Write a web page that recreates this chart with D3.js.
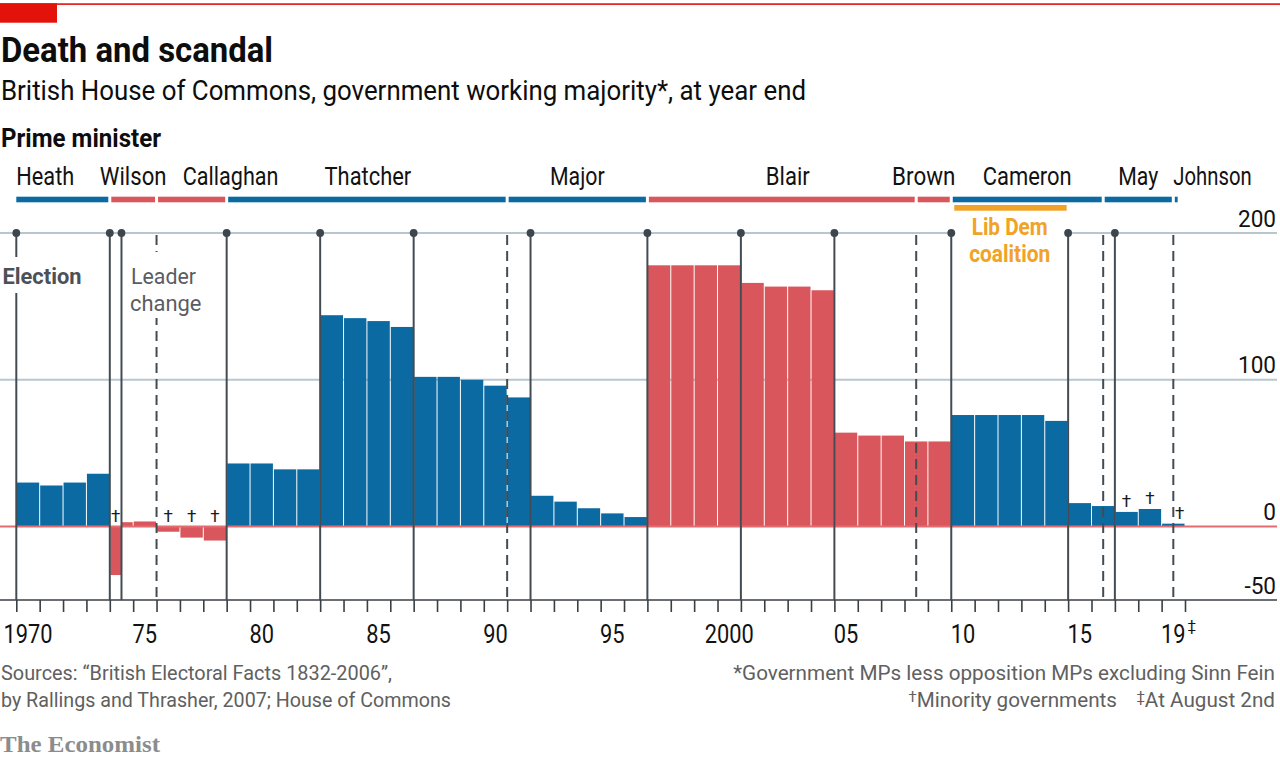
<!DOCTYPE html>
<html><head><meta charset="utf-8">
<script src="https://cdn.jsdelivr.net/npm/d3@7/dist/d3.min.js"></script>
<style>html,body{margin:0;padding:0;background:#fff}svg{display:block}</style>
</head><body>
<svg id="chart" width="1280" height="759"></svg>
<script>
// ---------------- DATA ----------------
// Bars: start year of each segment (1974 split at October election), working majority at year end
const barStart = [1970,1971,1972,1973,1974,1974.5,1975,1976,1977,1978,
  1979,1980,1981,1982,1983,1984,1985,1986,1987,1988,1989,1990,1991,1992,1993,1994,1995,1996,
  1997,1998,1999,2000,2001,2002,2003,2004,2005,2006,2007,2008,2009,
  2010,2011,2012,2013,2014,2015,2016,2017,2018,2019];
const majority = [30,28,30,36,-33,3,3.5,-3.5,-7.5,-9.5,
  43,43,39,39,144,142,140,136,102,102,100,96,88,21,17,12.5,9,6.5,
  178,178,178,178,166,163.5,163.5,161,64,62,62,58,58,
  76,76,76,76,72,16,14,10,12,2];
const minorityBars = [1974,1976,1977,1978,2017,2018,2019];
const barEndYear = 2020;

const elections = [1970,1974,1974.5,1979,1983,1987,1992,1997,2001,2005,2010,2015,2017];
const leaderChanges = [1976,1991,2008.5,2016.5,2019.5];

const pmNames = ["Heath","Wilson","Callaghan","Thatcher","Major","Blair","Brown","Cameron","May","Johnson"];
const pmStart = [1970,1974,1976,1979,1991,1997,2008.5,2010,2016.5,2019.5];
const pmEnd   = [1974,1976,1979,1991,1997,2008.5,2010,2016.5,2019.5,2019.75];
const pmParty = ["Con","Lab","Lab","Con","Con","Lab","Lab","Con","Con","Con"];
const coalitionPeriod = [2010,2015];

const yTicks = [200,100,0,-50];
const xLabelYears = [1970,1975,1980,1985,1990,1995,2000,2005,2010,2015,2019];
const xLabels = ["1970","75","80","85","90","95","2000","05","10","15","19"];

// ---------------- STYLE / LAYOUT ----------------
const SANS = "Roboto, 'Open Sans', Lato, sans-serif";
const SERIF = "'Liberation Serif', 'DejaVu Serif', serif";
const partyColor = {Con:"#0b6aa2", Lab:"#d9575c"};
const ORANGE = "#f0a326";
const LINE = "#434c53";

const svg = d3.select("#chart");
const x = d3.scaleLinear().domain([1970,2020]).range([16.3,1185]);
const y = d3.scaleLinear().domain([-50,200]).range([600,233]);

function fit(sel, w){ sel.attr("textLength", w).attr("lengthAdjust","spacingAndGlyphs"); return sel; }
function condense(sel, k){ sel.each(function(){ const w=this.getComputedTextLength(); d3.select(this).attr("textLength", w*k).attr("lengthAdjust","spacingAndGlyphs"); }); return sel; }

svg.append("rect").attr("width",1280).attr("height",759).attr("fill","#fff");

// top rule + red tag
svg.append("rect").attr("x",0).attr("y",3.3).attr("width",1280).attr("height",1.6).attr("fill","#e3120b");
svg.append("rect").attr("x",0).attr("y",3.3).attr("width",57).attr("height",19.4).attr("fill","#e3120b");

// titles
fit(svg.append("text").attr("x",1).attr("y",61.7).attr("font-family",SANS).attr("font-weight",700)
  .attr("font-size",35).attr("fill","#0d0d0d").text("Death and scandal"),272);
fit(svg.append("text").attr("x",1).attr("y",100).attr("font-family",SANS)
  .attr("font-size",28).attr("fill","#0d0d0d").text("British House of Commons, government working majority*, at year end"),805);
fit(svg.append("text").attr("x",1).attr("y",146.5).attr("font-family",SANS).attr("font-weight",700)
  .attr("font-size",26).attr("fill","#0d0d0d").text("Prime minister"),160);

// gridlines
svg.append("g").selectAll("line").data(yTicks.filter(d=>d>0)).join("line")
  .attr("x1",0).attr("x2",1277).attr("y1",d=>y(d)).attr("y2",d=>y(d))
  .attr("stroke","#b7c6d0").attr("stroke-width",2);

// coalition label background (hides gridline between elections)
svg.append("rect").attr("x",x(coalitionPeriod[0])+4).attr("width",x(coalitionPeriod[1])-x(coalitionPeriod[0])-8)
  .attr("y",214).attr("height",56).attr("fill","#fff");

// y labels
condense(svg.append("g").selectAll("text").data(yTicks).join("text")
  .attr("x",1276).attr("y",d=>y(d)-6.5).attr("text-anchor","end")
  .attr("font-family",SANS).attr("font-size",24).attr("fill","#121212").text(d=>d),0.94);

// bars
const bars = barStart.map((s,i)=>{
  const e = i<barStart.length-1 ? barStart[i+1] : barEndYear;
  const pi = pmStart.findIndex((ps,j)=> s>=ps && s<pmEnd[j]);
  return {start:s, end:e, v:majority[i], party:pmParty[pi]};
});
svg.append("g").selectAll("rect").data(bars).join("rect")
  .attr("x",d=>x(d.start)+0.5).attr("width",d=>x(d.end)-x(d.start)-1)
  .attr("y",d=>y(Math.max(0,d.v))).attr("height",d=>Math.abs(y(d.v)-y(0)))
  .attr("fill",d=>partyColor[d.party]);

// zero line
svg.append("line").attr("x1",0).attr("x2",1277).attr("y1",y(0)).attr("y2",y(0))
  .attr("stroke","#e26c70").attr("stroke-width",2);

// x axis
svg.append("line").attr("x1",0).attr("x2",1277).attr("y1",y(-50)).attr("y2",y(-50))
  .attr("stroke","#3a3f44").attr("stroke-width",1.6);
const ax = svg.append("g").attr("transform",`translate(0,${y(-50)})`)
  .call(d3.axisBottom(x).tickValues(d3.range(1970,2021)).tickSize(12).tickFormat(""));
ax.select(".domain").remove();
ax.selectAll(".tick line").attr("stroke","#3a3f44").attr("stroke-width",1.6);

// election lines
svg.append("g").selectAll("line").data(elections).join("line")
  .attr("x1",d=>x(d)).attr("x2",d=>x(d)).attr("y1",y(200)).attr("y2",y(-50))
  .attr("stroke",LINE).attr("stroke-width",2);
svg.append("g").selectAll("line").data(leaderChanges).join("line")
  .attr("x1",d=>x(d)).attr("x2",d=>x(d)).attr("y1",y(200)+2).attr("y2",y(-50))
  .attr("stroke",LINE).attr("stroke-width",2).attr("stroke-dasharray","10,6");
svg.append("g").selectAll("circle").data(elections).join("circle")
  .attr("cx",d=>x(d)).attr("cy",y(200)).attr("r",3.9).attr("fill","#3d464d");

// annotation backgrounds
svg.append("rect").attr("x",0).attr("y",257).attr("width",86).attr("height",36).attr("fill","#fff");
svg.append("rect").attr("x",126).attr("y",252).attr("width",80).attr("height",66).attr("fill","#fff");

fit(svg.append("text").attr("x",2.5).attr("y",284.3).attr("font-family",SANS).attr("font-weight",700)
  .attr("font-size",22.5).attr("fill","#4b5157").text("Election"),79);
fit(svg.append("text").attr("x",131).attr("y",284.3).attr("font-family",SANS)
  .attr("font-size",22.5).attr("fill","#595d61").text("Leader"),65);
fit(svg.append("text").attr("x",130).attr("y",310.7).attr("font-family",SANS)
  .attr("font-size",22.5).attr("fill","#595d61").text("change"),71.5);

// daggers (minority governments)
const daggerDx = {2019:6.5};
svg.append("g").selectAll("text").data(bars.filter(b=>minorityBars.includes(b.start))).join("text")
  .attr("x",d=>(x(d.start)+x(d.end))/2+(daggerDx[d.start]||0))
  .attr("y",d=>y(Math.max(0,d.v))-4.5).attr("text-anchor","middle")
  .attr("font-family",SANS).attr("font-size",17).attr("fill","#1a1a1a").text("\u2020");

// PM bars & labels
const pms = pmNames.map((n,i)=>({name:n,start:pmStart[i],end:pmEnd[i],party:pmParty[i]}));
svg.append("g").selectAll("rect").data(pms).join("rect")
  .attr("x",(d,i)=>x(d.start)+(i===0?0:1.5)).attr("width",(d,i)=>x(d.end)-x(d.start)-(i===0?1.5:3))
  .attr("y",196.7).attr("height",5.6).attr("fill",d=>partyColor[d.party]);
const pmLabelLayout = {
  Heath:{anchor:"start",dx:0,w:58}, Wilson:{w:66.7}, Callaghan:{dx:39,w:95.7}, Thatcher:{dx:1,w:86.7},
  Major:{w:54.7}, Blair:{dx:6,w:44}, Brown:{dx:-10,w:63.3}, Cameron:{w:89}, May:{w:40},
  Johnson:{anchor:"start",dx:0,w:78.4}
};
svg.append("g").selectAll("text").data(pms).join("text")
  .attr("x",d=>{const L=pmLabelLayout[d.name]; const base=L.anchor==="start"?x(d.start):(x(d.start)+x(d.end))/2; return base+(L.dx||0);})
  .attr("y",184.5).attr("text-anchor",d=>pmLabelLayout[d.name].anchor||"middle")
  .attr("font-family",SANS).attr("font-size",26.5).attr("fill","#121212").text(d=>d.name)
  .each(function(d){ fit(d3.select(this), pmLabelLayout[d.name].w); });

// coalition bar + label
svg.append("rect").attr("x",x(coalitionPeriod[0])+3).attr("width",x(coalitionPeriod[1])-x(coalitionPeriod[0])-4.5)
  .attr("y",205).attr("height",5.7).attr("fill",ORANGE);
const cx = 1009.7;
fit(svg.append("text").attr("x",cx).attr("y",234.7).attr("text-anchor","middle").attr("font-family",SANS)
  .attr("font-weight",700).attr("font-size",23.5).attr("fill",ORANGE).text("Lib Dem"),76);
fit(svg.append("text").attr("x",cx).attr("y",261.5).attr("text-anchor","middle").attr("font-family",SANS)
  .attr("font-weight",700).attr("font-size",23.5).attr("fill",ORANGE).text("coalition"),81);

// x labels
const xl = svg.append("g").selectAll("text").data(xLabelYears).join("text")
  .attr("x",d=>x(d+0.5)).attr("y",642.7).attr("text-anchor","middle")
  .attr("font-family",SANS).attr("font-size",25.5).attr("fill","#121212").text((d,i)=>xLabels[i]);
condense(xl,0.855);
const lastLab = xl.filter(d=>d===2019).node();
const lastW = +lastLab.getAttribute("textLength");
svg.append("text").attr("x",x(2019.5)+ lastW/2 + 2).attr("y",631).attr("font-family",SANS)
  .attr("font-size",15).attr("fill","#121212").text("\u2021");

// footer
const GREY = "#606060";
fit(svg.append("text").attr("x",1).attr("y",680).attr("font-family",SANS).attr("font-size",21).attr("fill",GREY)
  .text("Sources: \u201CBritish Electoral Facts 1832-2006\u201D,"),391);
fit(svg.append("text").attr("x",1).attr("y",706.7).attr("font-family",SANS).attr("font-size",21).attr("fill",GREY)
  .text("by Rallings and Thrasher, 2007; House of Commons"),450);

// right-aligned notes: horizontally scaled groups so extents stay inside the frame
function rightNote(xr, yb, build){
  const g = svg.append("g").attr("transform",`translate(${xr},${yb})`);
  const t = g.append("text").attr("x",0).attr("y",0).attr("text-anchor","end")
    .attr("font-family",SANS).attr("font-size",21).attr("fill",GREY);
  build(t);
  return {g, t, w:t.node().getComputedTextLength()};
}
const n1 = rightNote(1275,680,t=>t.text("*Government MPs less opposition MPs excluding Sinn Fein"));
const kFoot = 542 / n1.w;
n1.g.attr("transform",`translate(1275,680) scale(${kFoot},1)`);
const n2 = rightNote(1117,706.7,t=>{
  t.append("tspan").attr("font-size",15).attr("dy",-5).text("\u2020");
  t.append("tspan").attr("dy",5).text("Minority governments");
});
n2.g.attr("transform",`translate(1117,706.7) scale(${kFoot},1)`);
const n3 = rightNote(1275,706.7,t=>{
  t.append("tspan").attr("font-size",15).attr("dy",-5).text("\u2021");
  t.append("tspan").attr("dy",5).text("At August 2nd");
});
n3.g.attr("transform",`translate(1275,706.7) scale(${kFoot},1)`);

fit(svg.append("text").attr("x",0).attr("y",751.7).attr("font-family",SERIF).attr("font-weight",700)
  .attr("font-size",24).attr("fill","#8c8c8c").text("The Economist"),160);
</script>
</body></html>
